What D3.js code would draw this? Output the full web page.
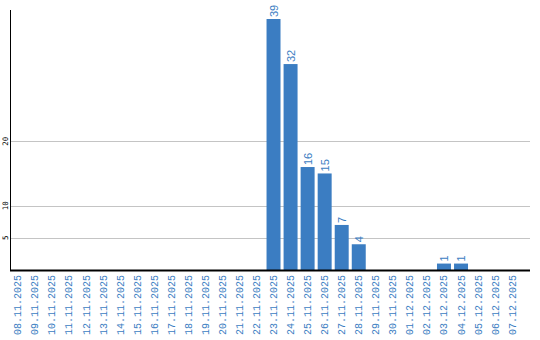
<!DOCTYPE html>
<html>
<head>
<meta charset="utf-8">
<title>Daily counts</title>
<script src="https://d3js.org/d3.v7.min.js"></script>
<style>
  body { margin: 0; background: #fff; }
</style>
</head>
<body>
<div id="chart"></div>
<script>
// data
var dates = ["08.11.2025","09.11.2025","10.11.2025","11.11.2025","12.11.2025","13.11.2025",
  "14.11.2025","15.11.2025","16.11.2025","17.11.2025","18.11.2025","19.11.2025","20.11.2025",
  "21.11.2025","22.11.2025","23.11.2025","24.11.2025","25.11.2025","26.11.2025","27.11.2025",
  "28.11.2025","29.11.2025","30.11.2025","01.12.2025","02.12.2025","03.12.2025","04.12.2025",
  "05.12.2025","06.12.2025","07.12.2025"];
var counts = [0,0,0,0,0,0,0,0,0,0,0,0,0,0,0,39,32,16,15,7,4,0,0,0,0,1,1,0,0,0];
var yTicks = [5, 10, 20];

var width = 540, height = 340;
var plotLeft = 10, plotRight = 530, plotTop = 10, plotBottom = 270;
var blue = "#3b7dc2";

var svg = d3.select("#chart").append("svg")
  .attr("width", width)
  .attr("height", height);

var x = d3.scaleBand().domain(dates).range([plotLeft, 520]).paddingInner(0.18).paddingOuter(0.05);
var y = d3.scaleLinear().domain([0, 40.4]).range([plotBottom, plotTop]);

// gridlines
svg.append("g").selectAll("line").data(yTicks).enter().append("line")
  .attr("x1", plotLeft).attr("x2", plotRight)
  .attr("y1", function(d){ return Math.round(y(d)) + 0.5; })
  .attr("y2", function(d){ return Math.round(y(d)) + 0.5; })
  .attr("stroke", "#c4c4c4").attr("stroke-width", 1);

// y tick labels
svg.append("g").selectAll("text").data(yTicks).enter().append("text")
  .attr("transform", function(d){ return "translate(7.5," + y(d) + ") rotate(-90)"; })
  .attr("text-anchor", "middle")
  .attr("font-family", "DejaVu Sans Mono, monospace")
  .attr("font-size", "7.5px")
  .attr("fill", "#000")
  .text(function(d){ return d; });

// bars
svg.append("g").selectAll("rect").data(counts).enter().append("rect")
  .attr("x", function(d, i){ return x(dates[i]); })
  .attr("width", x.bandwidth())
  .attr("y", function(d){ return y(d); })
  .attr("height", function(d){ return plotBottom - y(d); })
  .attr("fill", blue);

// value labels
svg.append("g").selectAll("text")
  .data(counts.map(function(v, i){ return {v: v, d: dates[i]}; }).filter(function(o){ return o.v > 0; }))
  .enter().append("text")
  .attr("transform", function(o){
    return "translate(" + (x(o.d) + x.bandwidth() / 2 + 4) + "," + (y(o.v) - 2) + ") rotate(-90)";
  })
  .attr("font-family", "Liberation Sans, Arial, sans-serif")
  .attr("font-size", "11px")
  .attr("fill", blue)
  .text(function(o){ return o.v; });

// axis lines
svg.append("line")
  .attr("x1", plotLeft + 0.5).attr("x2", plotLeft + 0.5)
  .attr("y1", plotTop).attr("y2", plotBottom)
  .attr("stroke", "#000").attr("stroke-width", 1);
svg.append("line")
  .attr("x1", plotLeft).attr("x2", plotRight)
  .attr("y1", plotBottom + 0.5).attr("y2", plotBottom + 0.5)
  .attr("stroke", "#000").attr("stroke-width", 2);

// x labels
svg.append("g").selectAll("text").data(dates).enter().append("text")
  .attr("transform", function(d){
    return "translate(" + (x(d) + x.bandwidth() / 2 + 3.5) + "," + (plotBottom + 5) + ") rotate(-90)";
  })
  .attr("text-anchor", "end")
  .attr("font-family", "Liberation Mono, monospace")
  .attr("font-size", "10px")
  .attr("fill", blue)
  .text(function(d){ return d; });
</script>
</body>
</html>
